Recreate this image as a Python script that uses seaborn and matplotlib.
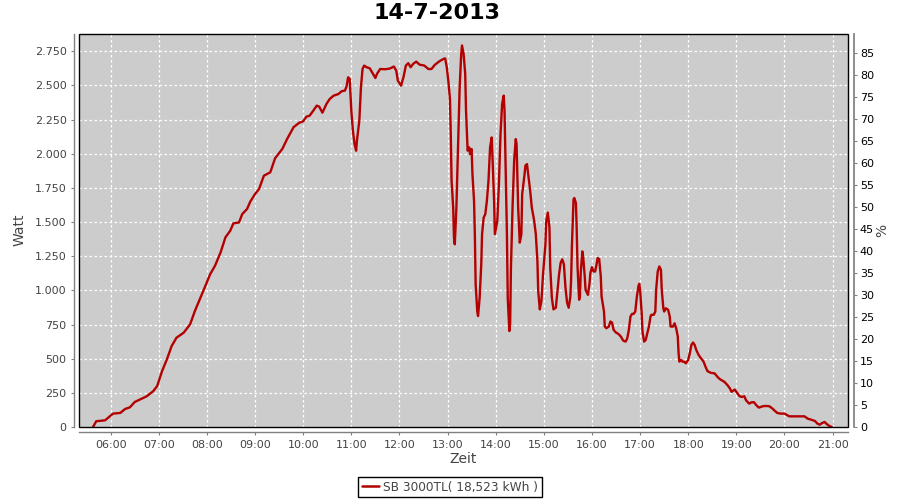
import pandas as pd
import matplotlib
matplotlib.use('Agg')
import matplotlib.pyplot as plt
import seaborn as sns
from matplotlib.ticker import FuncFormatter
from matplotlib.patches import Rectangle
from matplotlib.lines import Line2D

sns.set_theme(style="white")
plt.rcParams['font.family'] = ['DejaVu Sans']

# ---- data ----
title = '14-7-2013'
series_label = 'SB 3000TL( 18,523 kWh )'

times = [
    '05:38', '05:42', '05:53', '06:00', '06:03', '06:12', '06:18', '06:24', '06:30', '06:39',
    '06:45', '06:53', '06:58', '07:04', '07:10', '07:16', '07:22', '07:31', '07:39', '07:45',
    '07:52', '07:58', '08:04', '08:10', '08:17', '08:23', '08:29', '08:33', '08:40', '08:44',
    '08:50', '08:54', '09:00', '09:05', '09:11', '09:19', '09:25', '09:34', '09:40', '09:48',
    '09:55', '10:00', '10:04', '10:08', '10:12', '10:17', '10:20', '10:24', '10:29', '10:33',
    '10:38', '10:44', '10:48', '10:52', '10:54', '10:56', '10:58', '11:00', '11:02', '11:04',
    '11:06', '11:07', '11:10', '11:12', '11:14', '11:16', '11:19', '11:23', '11:27', '11:30',
    '11:32', '11:36', '11:42', '11:48', '11:53', '11:56', '11:58', '12:02', '12:05', '12:08',
    '12:11', '12:14', '12:17', '12:21', '12:25', '12:31', '12:36', '12:40', '12:44', '12:50',
    '12:55', '12:57', '12:59', '13:01', '13:03', '13:04', '13:05', '13:07', '13:08', '13:09',
    '13:11', '13:13', '13:15', '13:17', '13:18', '13:20', '13:22', '13:23', '13:25', '13:27',
    '13:28', '13:30', '13:31', '13:33', '13:34', '13:35', '13:37', '13:38', '13:40', '13:42',
    '13:43', '13:45', '13:47', '13:49', '13:51', '13:53', '13:55', '13:56', '13:58', '13:59',
    '14:02', '14:04', '14:06', '14:08', '14:10', '14:11', '14:12', '14:14', '14:15', '14:17',
    '14:18', '14:19', '14:21', '14:23', '14:25', '14:26', '14:27', '14:28', '14:30', '14:32',
    '14:33', '14:36', '14:37', '14:39', '14:41', '14:43', '14:45', '14:48', '14:50', '14:52',
    '14:53', '14:55', '14:57', '14:59', '15:02', '15:03', '15:05', '15:07', '15:08', '15:10',
    '15:12', '15:15', '15:17', '15:19', '15:21', '15:23', '15:25', '15:27', '15:29', '15:31',
    '15:33', '15:34', '15:35', '15:36', '15:37', '15:38', '15:40', '15:41', '15:42', '15:44',
    '15:45', '15:46', '15:48', '15:49', '15:51', '15:52', '15:55', '15:57', '15:58', '16:00',
    '16:02', '16:04', '16:06', '16:07', '16:09', '16:11', '16:12', '16:15', '16:16', '16:18',
    '16:21', '16:23', '16:25', '16:27', '16:30', '16:33', '16:36', '16:39', '16:42', '16:44',
    '16:46', '16:48', '16:50', '16:52', '16:54', '16:56', '16:58', '16:59', '17:00', '17:02',
    '17:03', '17:05', '17:07', '17:09', '17:11', '17:13', '17:14', '17:17', '17:19', '17:20',
    '17:22', '17:24', '17:26', '17:27', '17:29', '17:30', '17:32', '17:35', '17:37', '17:38',
    '17:41', '17:43', '17:45', '17:47', '17:48', '17:49', '17:51', '17:53', '17:55', '17:57',
    '18:00', '18:02', '18:04', '18:06', '18:08', '18:10', '18:13', '18:16', '18:19', '18:22',
    '18:24', '18:28', '18:33', '18:37', '18:40', '18:45', '18:49', '18:52', '18:54', '18:58',
    '19:01', '19:04', '19:07', '19:10', '19:12', '19:16', '19:19', '19:22', '19:25', '19:28',
    '19:33', '19:37', '19:41', '19:45', '19:48', '19:51', '19:55', '20:00', '20:06', '20:14',
    '20:25', '20:29', '20:33', '20:38', '20:41', '20:44', '20:47', '20:50', '20:52', '20:56',
    '20:59',
]

watts = [
    0, 42, 49, 83, 98, 103, 132, 144, 183, 208,
    225, 262, 300, 408, 494, 592, 653, 690, 751, 849,
    947, 1032, 1118, 1179, 1277, 1387, 1436, 1490, 1497, 1558,
    1595, 1649, 1705, 1742, 1839, 1864, 1967, 2035, 2108, 2194,
    2226, 2237, 2271, 2278, 2310, 2352, 2344, 2300, 2364, 2400,
    2425, 2437, 2457, 2462, 2491, 2559, 2547, 2315, 2168, 2071,
    2022, 2095, 2242, 2486, 2620, 2645, 2633, 2625, 2584, 2554,
    2584, 2620, 2618, 2623, 2638, 2608, 2535, 2498, 2559, 2645,
    2662, 2633, 2657, 2674, 2652, 2645, 2620, 2620, 2650, 2677,
    2694, 2697, 2633, 2530, 2400, 2144, 1802, 1606, 1386, 1337,
    1606, 2040, 2474, 2730, 2792, 2730, 2584, 2315, 2022, 2046,
    1997, 2034, 1851, 1655, 1411, 1044, 848, 812, 946, 1191,
    1411, 1533, 1557, 1655, 1802, 2046, 2119, 1973, 1655, 1411,
    1508, 1777, 2144, 2364, 2425, 2315, 2022, 1411, 946, 702,
    751, 1166, 1606, 1948, 2107, 2071, 1851, 1606, 1349, 1411,
    1704, 1851, 1912, 1924, 1826, 1728, 1606, 1508, 1411, 1215,
    995, 861, 922, 1117, 1337, 1508, 1569, 1459, 1166, 946,
    861, 873, 995, 1117, 1203, 1227, 1191, 1020, 910, 873,
    950, 1077, 1322, 1493, 1664, 1676, 1639, 1444, 1175, 931,
    955, 1126, 1285, 1248, 1102, 1004, 967, 1053, 1126, 1170,
    1138, 1138, 1199, 1236, 1229, 1102, 955, 845, 735, 723,
    735, 772, 764, 711, 691, 681, 662, 632, 625, 649,
    711, 808, 828, 828, 845, 955, 1033, 1048, 1004, 833,
    698, 625, 637, 686, 735, 808, 821, 821, 845, 1004,
    1138, 1175, 1150, 1004, 869, 845, 869, 857, 808, 735,
    735, 759, 723, 662, 540, 478, 491, 478, 478, 466,
    491, 540, 601, 618, 601, 564, 527, 502, 480, 435,
    409, 397, 392, 363, 348, 331, 306, 282, 257, 274,
    250, 225, 220, 225, 196, 171, 181, 181, 159, 142,
    152, 154, 152, 135, 118, 103, 98, 98, 78, 78,
    78, 61, 54, 44, 25, 17, 29, 37, 25, 7,
    0,
]

hour_ticks = list(range(6, 22))
watt_ticks = list(range(0, 2751, 250))
pct_ticks = list(range(0, 86, 5))


def to_hours(s):
    h, m = s.split(':')
    return int(h) + int(m) / 60


df = pd.DataFrame({'hours': [to_hours(t) for t in times], 'watt': watts})

line_color = '#b40000'
axis_gray = '#808080'
text_gray = '#444444'

fig = plt.figure(figsize=(9, 5), dpi=100)
ax = fig.add_axes([79 / 900, 73 / 500, 769 / 900, 393 / 500])
ax.set_facecolor('#cccccc')

sns.lineplot(data=df, x='hours', y='watt', ax=ax, color=line_color, lw=1.7,
             estimator=None, sort=False, legend=False)

ax.set_xlim(5.342, 21.32)
ax.set_ylim(0, 2876)
ax.set_xticks(hour_ticks)
ax.set_xticklabels([f'{h:02d}:00' for h in hour_ticks])
ax.set_yticks(watt_ticks)
ax.yaxis.set_major_formatter(FuncFormatter(lambda v, p: f'{int(v):,}'.replace(',', '.')))
ax.grid(True, color='white', linestyle=(0, (2, 2)), lw=0.9)
ax.set_axisbelow(True)
ax.set_xlabel('')
ax.set_ylabel('')

for side in ['top', 'right']:
    ax.spines[side].set_visible(False)
for side in ['left', 'bottom']:
    ax.spines[side].set_position(('outward', 3.5))
    ax.spines[side].set_color(axis_gray)
    ax.spines[side].set_linewidth(1)
ax.tick_params(axis='both', direction='out', length=2.5, width=0.8, color=axis_gray,
               labelcolor=text_gray, labelsize=8, pad=3)
ax.tick_params(axis='both', which='both', bottom=True, left=True)

# black border around the plot area
ax.add_patch(Rectangle((0, 0), 1, 1, transform=ax.transAxes, fill=False,
                       ec='black', lw=1, zorder=5, clip_on=False))

# right percent axis
ax2 = ax.twinx()
ax2.set_ylim(0, 89.3)
ax2.set_yticks(pct_ticks)
for side in ['top', 'left', 'bottom']:
    ax2.spines[side].set_visible(False)
ax2.spines['right'].set_position(('outward', 4))
ax2.spines['right'].set_color(axis_gray)
ax2.tick_params(axis='y', direction='out', length=2.5, width=0.8, color=axis_gray,
                labelcolor='black', labelsize=8, pad=2)

fig.text(437 / 900, 1 - 13 / 500, title, ha='center', va='center',
         fontsize=16, fontweight='bold', color='black')
fig.text(20 / 900, 1 - 230 / 500, 'Watt', rotation=90, ha='center', va='center',
         fontsize=10, color=text_gray)
fig.text(882 / 900, 1 - 230 / 500, '%', rotation=90, ha='center', va='center',
         fontsize=10, color=text_gray)
fig.text(463.5 / 900, 1 - 459 / 500, 'Zeit', ha='center', va='center',
         fontsize=10, color=text_gray)

handle = Line2D([0], [0], color=line_color, lw=1.8)
leg = fig.legend(handles=[handle], labels=[series_label], loc='center',
                 bbox_to_anchor=(450 / 900, 1 - 487 / 500), frameon=True, fancybox=False,
                 edgecolor='black', framealpha=1, fontsize=8.7, handlelength=1.4,
                 handletextpad=0.4, borderpad=0.3, borderaxespad=0, labelcolor=text_gray)
leg.get_frame().set_linewidth(1)

fig.savefig('out.png', dpi=100)
